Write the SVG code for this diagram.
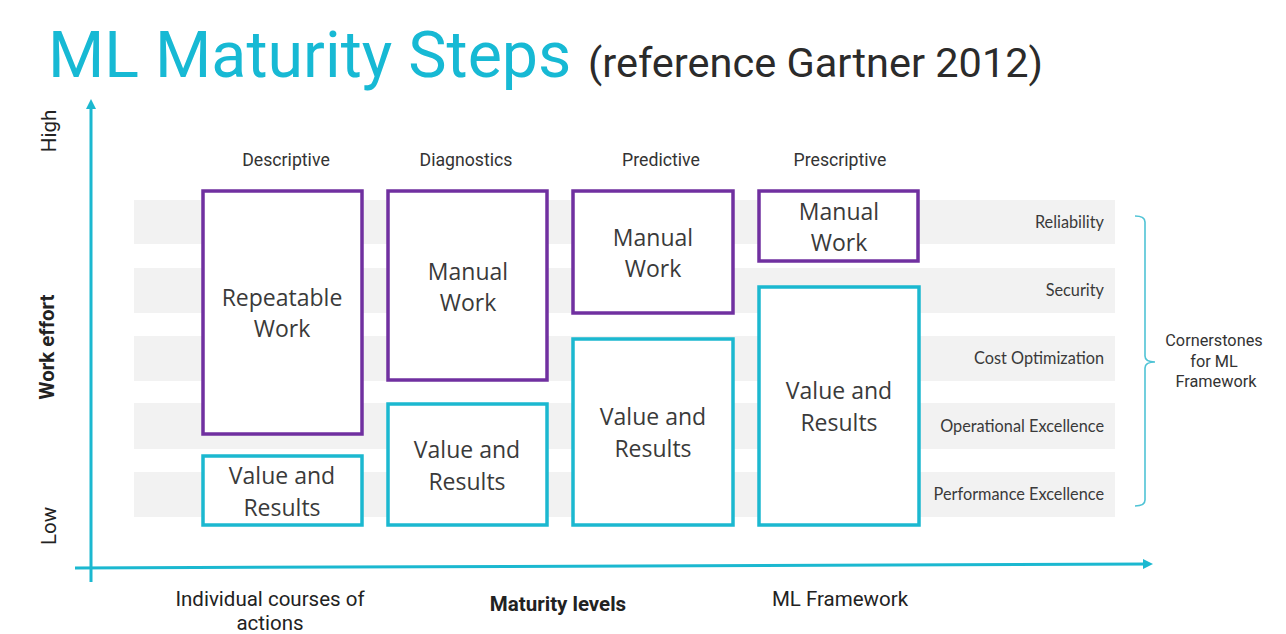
<svg xmlns="http://www.w3.org/2000/svg" width="1286" height="634" viewBox="0 0 1286 634">
  <style>
    .band{fill:#f2f2f2}
    .pbox{fill:#fff;stroke:#7030a0;stroke-width:3.5}
    .cbox{fill:#fff;stroke:#1bb8d0;stroke-width:3.5}
    .blab{font-family:"Open Sans",sans-serif;font-size:23px;fill:#3a3a3a;text-anchor:middle}
    .rlab{font-family:Lato,"Open Sans",sans-serif;font-size:16.3px;fill:#3a3a3a;text-anchor:end}
    .hdr{font-family:Roboto,sans-serif;font-size:17.7px;fill:#333;text-anchor:middle}
    .ax{font-family:Roboto,sans-serif;font-size:20.5px;fill:#222;text-anchor:middle}
    .axis{stroke:#1bb8d0;stroke-width:3;fill:none}
  </style>
  <defs>
    <marker id="arr" markerWidth="10" markerHeight="10" refX="6" refY="5" orient="auto" markerUnits="userSpaceOnUse">
      <path d="M0,0 L10,5 L0,10 Z" fill="#1bb8d0"/>
    </marker>
  </defs>
  <rect width="1286" height="634" fill="#fff"/>

  <g id="title">
    <text x="48" y="77" font-family="Roboto,sans-serif" font-size="64.5" fill="#17b9d4">ML Maturity Steps</text>
    <text x="588" y="77" font-family="Roboto,sans-serif" font-size="41.5" fill="#2b2b2b">(reference Gartner 2012)</text>
  </g>

  <g id="bands">
    <rect class="band" x="134" y="200" width="981" height="44"/>
    <rect class="band" x="134" y="268" width="981" height="45"/>
    <rect class="band" x="134" y="336" width="981" height="45"/>
    <rect class="band" x="134" y="403" width="981" height="46"/>
    <rect class="band" x="134" y="472" width="981" height="45"/>
  </g>

  <g id="connectors">
    <line class="axis" x1="91" y1="582" x2="91" y2="103" marker-end="url(#arr)"/>
    <line class="axis" x1="75" y1="568" x2="1149" y2="564" marker-end="url(#arr)"/>
    <path d="M1135,216 Q1145,216 1145,222 L1145,356 Q1145,362 1155,362 Q1145,362 1145,368 L1145,500 Q1145,506 1135,506" fill="none" stroke="#4fc3d5" stroke-width="1.6"/>
  </g>

  <g id="axis-labels">
    <text class="ax" transform="translate(56,131) rotate(-90)">High</text>
    <text class="ax" transform="translate(56,526) rotate(-90)">Low</text>
    <text class="ax" transform="translate(54,347) rotate(-90)" font-weight="bold">Work effort</text>
    <text class="ax" x="270" y="606">Individual courses of</text>
    <text class="ax" x="270" y="630">actions</text>
    <text class="ax" x="558" y="611" font-weight="bold">Maturity levels</text>
    <text class="ax" x="840" y="606">ML Framework</text>
  </g>

  <g id="headers">
    <text class="hdr" x="286" y="166">Descriptive</text>
    <text class="hdr" x="466" y="166">Diagnostics</text>
    <text class="hdr" x="661" y="166">Predictive</text>
    <text class="hdr" x="840" y="166">Prescriptive</text>
  </g>

  <g id="desc-work">
    <rect class="pbox" x="203" y="191" width="159" height="243"/>
    <text class="blab" x="282" y="306">Repeatable</text>
    <text class="blab" x="282" y="337">Work</text>
  </g>
  <g id="desc-value">
    <rect class="cbox" x="203" y="456" width="159" height="69"/>
    <text class="blab" x="282" y="484">Value and</text>
    <text class="blab" x="282" y="516">Results</text>
  </g>
  <g id="diag-work">
    <rect class="pbox" x="388" y="191" width="159" height="189"/>
    <text class="blab" x="468" y="280">Manual</text>
    <text class="blab" x="468" y="311">Work</text>
  </g>
  <g id="diag-value">
    <rect class="cbox" x="388" y="404" width="159" height="121"/>
    <text class="blab" x="467" y="458">Value and</text>
    <text class="blab" x="467" y="490">Results</text>
  </g>
  <g id="pred-work">
    <rect class="pbox" x="573" y="191" width="160" height="122"/>
    <text class="blab" x="653" y="246">Manual</text>
    <text class="blab" x="653" y="277">Work</text>
  </g>
  <g id="pred-value">
    <rect class="cbox" x="573" y="339" width="160" height="186"/>
    <text class="blab" x="653" y="425">Value and</text>
    <text class="blab" x="653" y="457">Results</text>
  </g>
  <g id="pres-work">
    <rect class="pbox" x="759" y="191" width="159" height="70"/>
    <text class="blab" x="839" y="220">Manual</text>
    <text class="blab" x="839" y="251">Work</text>
  </g>
  <g id="pres-value">
    <rect class="cbox" x="759" y="287" width="160" height="238"/>
    <text class="blab" x="839" y="399">Value and</text>
    <text class="blab" x="839" y="431">Results</text>
  </g>

  <g id="cornerstones">
    <text class="rlab" x="1104" y="228">Reliability</text>
    <text class="rlab" x="1104" y="296">Security</text>
    <text class="rlab" x="1104" y="364">Cost Optimization</text>
    <text class="rlab" x="1104" y="432">Operational Excellence</text>
    <text class="rlab" x="1104" y="500">Performance Excellence</text>
  </g>
  <g id="cornerstones-label">
    <text font-family="Roboto,sans-serif" font-size="16.3" fill="#333" text-anchor="middle">
      <tspan x="1216" y="346">Cornerstones</tspan>
      <tspan x="1216" y="367">for ML</tspan>
      <tspan x="1216" y="387">Framework</tspan>
    </text>
  </g>
</svg>
